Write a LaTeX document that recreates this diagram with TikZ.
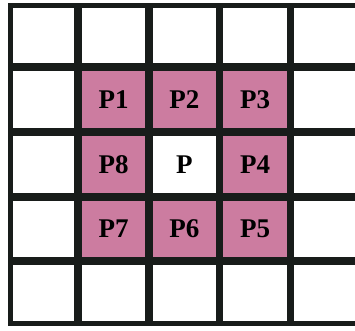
\documentclass[tikz,border=0pt]{standalone}
\usepackage{fontspec}
\setmainfont{Liberation Serif}
\newfontfamily\labelfont{Liberation Serif}
\definecolor{pinkc}{RGB}{204,124,160}
\definecolor{gridc}{RGB}{24,28,26}
\tikzset{
  cell/.style={draw=none, inner sep=0pt, minimum width=70.7pt, minimum height=64pt,
    font=\labelfont\bfseries\fontsize{27}{27}\selectfont, text=black},
  pinkcell/.style={cell, fill=pinkc},
  whitecell/.style={cell, fill=white},
  inner line/.style={draw=gridc, line width=7.5pt},
  outer line/.style={draw=gridc, line width=5pt}
}
\begin{document}
\begin{tikzpicture}[x=1pt,y=-1pt]
\useasboundingbox (0,0) rectangle (355,330);
\clip (0,0) rectangle (355,330);
\fill[white] (0,0) rectangle (355,330);
% labelled cells
\node[pinkcell]  (p1) at (113.5, 99.5)  {P1};
\node[pinkcell]  (p2) at (184.4, 99.5)  {P2};
\node[pinkcell]  (p3) at (255.1, 99.5)  {P3};
\node[pinkcell]  (p8) at (113.5, 164.5) {P8};
\node[whitecell] (p)  at (184.4, 164.5) {P};
\node[pinkcell]  (p4) at (255.1, 164.5) {P4};
\node[pinkcell]  (p7) at (113.5, 229)   {P7};
\node[pinkcell]  (p6) at (184.4, 229)   {P6};
\node[pinkcell]  (p5) at (255.1, 229)   {P5};
% grid lines
\foreach \x in {78,149,219.7,290.5}
  \draw[inner line] (\x,5.3) -- (\x,323);
\foreach \y in {67,132,197,261}
  \draw[inner line] (10.3,\y) -- (361,\y);
\draw[outer line] (10.3,5.3) rectangle (361,323);
\end{tikzpicture}
\end{document}
